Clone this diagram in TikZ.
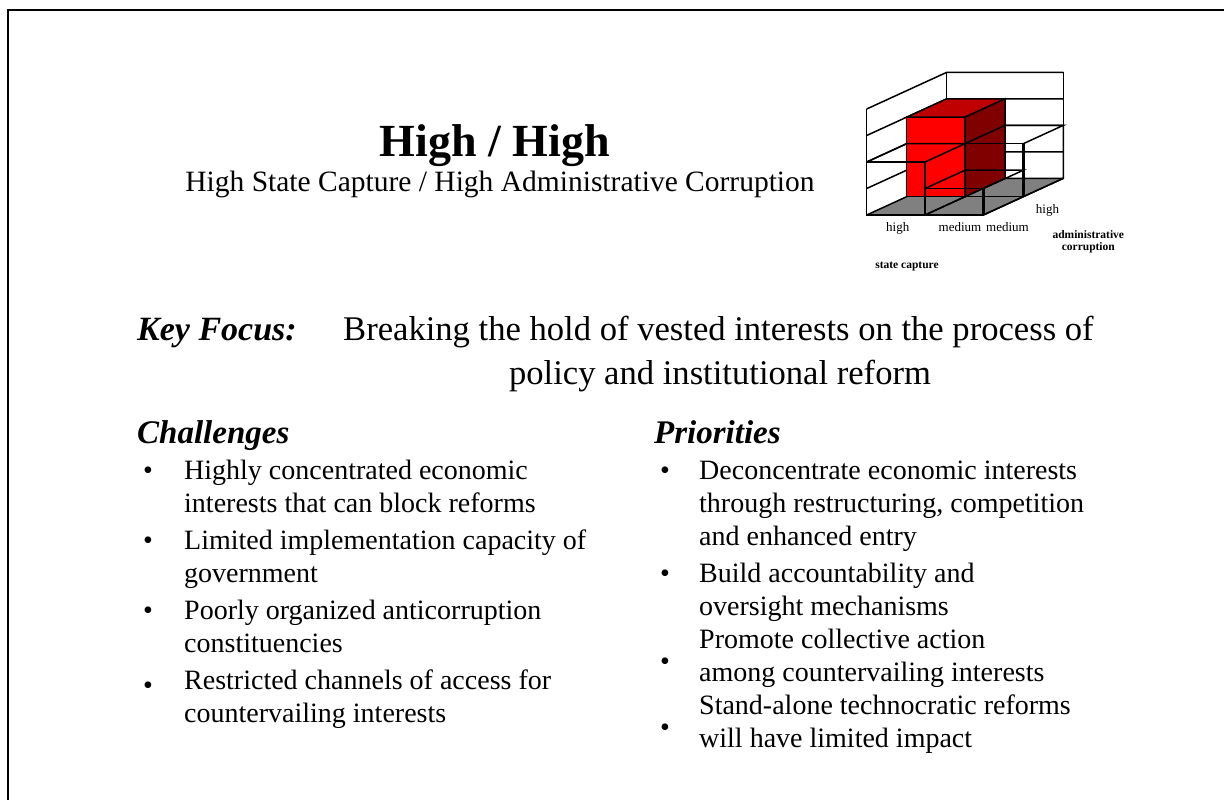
\documentclass[tikz,border=0pt]{standalone}
\usepackage{fontspec}
\setmainfont{Liberation Serif}
\definecolor{barfront}{HTML}{FF0000}
\definecolor{bartop}{HTML}{C00000}
\definecolor{barside}{HTML}{800000}
\definecolor{floorgray}{HTML}{808080}
\tikzset{
  body/.style={anchor=base west, inner sep=0pt, font=\fontsize{28}{32}\selectfont},
  bul/.style={anchor=base, inner sep=0pt, font=\fontsize{28}{32}\selectfont},
  head/.style={anchor=base west, inner sep=0pt, font=\fontsize{33}{38}\selectfont\bfseries\itshape},
  chartlbl/.style={anchor=base, inner sep=0pt, font=\fontsize{13}{14}\selectfont},
  chartax/.style={anchor=base, inner sep=0pt, font=\fontsize{11.5}{12}\selectfont\bfseries},
  gridln/.style={draw=black, line width=1.5pt},
  wire/.style={draw=black, line width=1.5pt, line join=miter},
}
\newcommand{\wirebar}[3]{%
  \draw[wire] (#1,0,#2) -- (#1+1,0,#2) -- (#1+1,#3,#2) -- (#1,#3,#2) -- cycle;
  \draw[wire] (#1,#3,#2) -- (#1,#3,#2+1) -- (#1+1,#3,#2+1) -- (#1+1,#3,#2);
  \draw[wire] (#1+1,0,#2) -- (#1+1,0,#2+1) -- (#1+1,#3,#2+1);
}
\begin{document}
\begin{tikzpicture}[x=1pt,y=-1pt]
\useasboundingbox (0,0) rectangle (1224,800);
% frame
\draw[line width=2pt] (8,800) -- (8,10) -- (1224,10);

% title
\node[anchor=base, inner sep=0pt, font=\fontsize{46}{50}\selectfont\bfseries] (title) at (495,156) {High / High};
\node[anchor=base, inner sep=0pt, font=\fontsize{29.5}{34}\selectfont] (subtitle) at (500,191) {High State Capture / High Administrative Corruption};

% chart
\begin{scope}[shift={(866.7pt,-215pt)}, x={(58.333pt,0pt)}, y={(0pt,26.5pt)}, z={(40pt,18.333pt)}]
  \fill[white] (0,0,0) -- (0,4,0) -- (0,4,2) -- (0,0,2) -- cycle;
  \fill[white] (0,0,2) -- (2,0,2) -- (2,4,2) -- (0,4,2) -- cycle;
  \fill[floorgray] (0,0,0) -- (2,0,0) -- (2,0,2) -- (0,0,2) -- cycle;
  \foreach \h in {0,1,2,3,4} {
    \draw[gridln] (0,\h,0) -- (0,\h,2) -- (2,\h,2);
  }
  \draw[gridln] (0,0,0) -- (0,4,0);
  \draw[gridln] (0,0,2) -- (0,4,2);
  \draw[gridln] (2,0,2) -- (2,4,2);
  \draw[gridln] (0,0,0) -- (2,0,0) -- (2,0,2);
  \draw[gridln] (1,0,0) -- (1,0,2);
  \draw[gridln] (0,0,1) -- (2,0,1);
  % red bar (high / high)
  \filldraw[fill=barfront, wire] (0,0,1) -- (1,0,1) -- (1,3,1) -- (0,3,1) -- cycle;
  \filldraw[fill=bartop, wire] (0,3,1) -- (1,3,1) -- (1,3,2) -- (0,3,2) -- cycle;
  \filldraw[fill=barside, wire] (1,0,1) -- (1,0,2) -- (1,3,2) -- (1,3,1) -- cycle;
  % other bars, outline only
  \wirebar{1}{1}{2}
  \wirebar{0}{0}{2}
  \wirebar{1}{0}{1}
  \draw[black, line width=2.8pt] (2,0,0) -- (2,1,0);
  \draw[black, line width=2.8pt] (2,0,1) -- (2,2,1);
\end{scope}
\node[chartlbl] (lhigh) at (897.7,231.7) {high};
\node[chartlbl] (lmed1) at (960,231.7) {medium};
\node[chartlbl] (lmed2) at (1007.5,231.7) {medium};
\node[chartlbl] (lhigh2) at (1047.5,213.3) {high};
\node[chartax] (ladm) at (1088.3,238.3) {administrative};
\node[chartax] (lcor) at (1088.3,250) {corruption};
\node[chartax] (lsc) at (907,268.3) {state capture};

% key focus
\node[anchor=base west, inner sep=0pt, font=\fontsize{34}{38}\selectfont\bfseries\itshape] (kf) at (137,340) {Key Focus:};
\node[anchor=base west, inner sep=0pt, font=\fontsize{34.6}{38}\selectfont] (kf1) at (343,340) {Breaking the hold of vested interests on the process of};
\node[anchor=base, inner sep=0pt, font=\fontsize{34.6}{38}\selectfont] (kf2) at (720,384) {policy and institutional reform};

% challenges
\node[head] (ch) at (137,443) {Challenges};
\node[bul] (cb1) at (148,479) {\textbullet};
\node[body] (c1a) at (184,479) {Highly concentrated economic};
\node[body] (c1b) at (184,512) {interests that can block reforms};
\node[bul] (cb2) at (148,549) {\textbullet};
\node[body] (c2a) at (184,549) {Limited implementation capacity of};
\node[body] (c2b) at (184,582) {government};
\node[bul] (cb3) at (148,619) {\textbullet};
\node[body] (c3a) at (184,619) {Poorly organized anticorruption};
\node[body] (c3b) at (184,652) {constituencies};
\node[bul] (cb4) at (148,694) {\textbullet};
\node[body] (c4a) at (184,689) {Restricted channels of access for};
\node[body] (c4b) at (184,722) {countervailing interests};

% priorities
\node[head] (pr) at (654,443) {Priorities};
\node[bul] (pb1) at (665,479) {\textbullet};
\node[body] (p1a) at (699,479) {Deconcentrate economic interests};
\node[body] (p1b) at (699,512) {through restructuring, competition};
\node[body] (p1c) at (699,545) {and enhanced entry};
\node[bul] (pb2) at (665,582) {\textbullet};
\node[body] (p2a) at (699,582) {Build accountability and};
\node[body] (p2b) at (699,615) {oversight mechanisms};
\node[bul] (pb3) at (665,670) {\textbullet};
\node[body] (p3a) at (699,648) {Promote collective action};
\node[body] (p3b) at (699,681) {among countervailing interests};
\node[bul] (pb4) at (665,736) {\textbullet};
\node[body] (p4a) at (699,714) {Stand-alone technocratic reforms};
\node[body] (p4b) at (699,747) {will have limited impact};
\end{tikzpicture}
\end{document}
